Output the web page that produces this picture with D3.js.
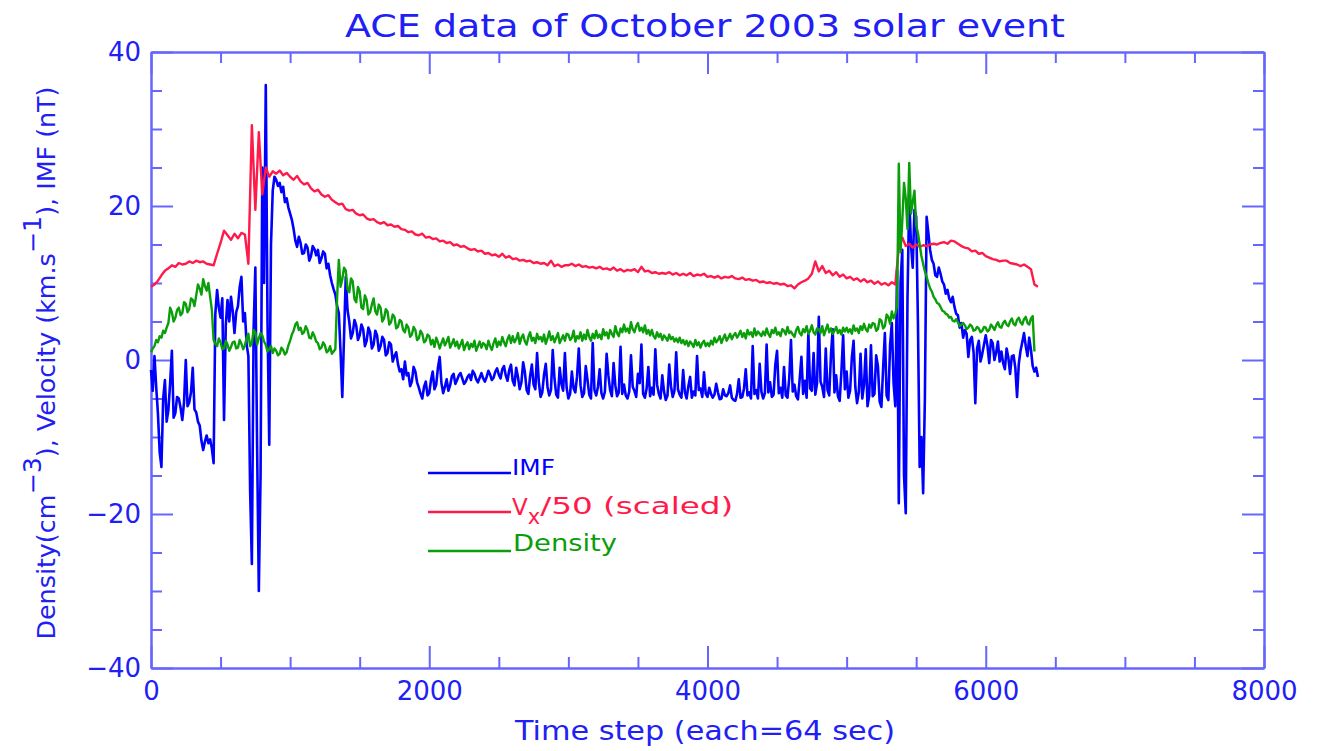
<!DOCTYPE html>
<html><head><meta charset="utf-8">
<script src="https://cdn.jsdelivr.net/npm/d3@7"></script>
<style>html,body{margin:0;padding:0;background:#fff;} svg{display:block}</style>
</head><body>
<svg id="chart" width="1317" height="751"></svg>
<script>
// ---- data ----
// time steps for the velocity series (every 25 samples)
const timeSteps = [
0,25,50,75,100,125,150,175, 200,225,250,275,300,325,350,375,
400,425,450,475,500,525,550,575, 600,625,650,675,700,725,750,775,
800,825,850,875,900,925,950,975, 1000,1025,1050,1075,1100,1125,1150,1175,
1200,1225,1250,1275,1300,1325,1350,1375, 1400,1425,1450,1475,1500,1525,1550,1575,
1600,1625,1650,1675,1700,1725,1750,1775, 1800,1825,1850,1875,1900,1925,1950,1975,
2000,2025,2050,2075,2100,2125,2150,2175, 2200,2225,2250,2275,2300,2325,2350,2375,
2400,2425,2450,2475,2500,2525,2550,2575, 2600,2625,2650,2675,2700,2725,2750,2775,
2800,2825,2850,2875,2900,2925,2950,2975, 3000,3025,3050,3075,3100,3125,3150,3175,
3200,3225,3250,3275,3300,3325,3350,3375, 3400,3425,3450,3475,3500,3525,3550,3575,
3600,3625,3650,3675,3700,3725,3750,3775, 3800,3825,3850,3875,3900,3925,3950,3975,
4000,4025,4050,4075,4100,4125,4150,4175, 4200,4225,4250,4275,4300,4325,4350,4375,
4400,4425,4450,4475,4500,4525,4550,4575, 4600,4625,4650,4675,4700,4725,4750,4775,
4800,4825,4850,4875,4900,4925,4950,4975, 5000,5025,5050,5075,5100,5125,5150,5175,
5200,5225,5250,5275,5300,5325,5350,5375, 5400,5425,5450,5475,5500,5525,5550,5575,
5600,5625,5650,5675,5700,5725,5750,5775, 5800,5825,5850,5875,5900,5925,5950,5975,
6000,6025,6050,6075,6100,6125,6150,6175, 6200,6225,6250,6275,6300,6325,6350,6375
];

// time steps for IMF and density (every 12.5 samples)
const fineSteps = [
0,12.5,25,37.5,50,62.5,75,87.5,100,112.5,125,137.5,150,162.5,175,187.5,
200,212.5,225,237.5,250,262.5,275,287.5,300,312.5,325,337.5,350,362.5,375,387.5,
400,412.5,425,437.5,450,462.5,475,487.5,500,512.5,525,537.5,550,562.5,575,587.5,
600,612.5,625,637.5,650,662.5,675,687.5,700,712.5,725,737.5,750,762.5,775,787.5,
800,812.5,825,837.5,850,862.5,875,887.5,900,912.5,925,937.5,950,962.5,975,987.5,
1000,1012.5,1025,1037.5,1050,1062.5,1075,1087.5,1100,1112.5,1125,1137.5,1150,1162.5,1175,1187.5,
1200,1212.5,1225,1237.5,1250,1262.5,1275,1287.5,1300,1312.5,1325,1337.5,1350,1362.5,1375,1387.5,
1400,1412.5,1425,1437.5,1450,1462.5,1475,1487.5,1500,1512.5,1525,1537.5,1550,1562.5,1575,1587.5,
1600,1612.5,1625,1637.5,1650,1662.5,1675,1687.5,1700,1712.5,1725,1737.5,1750,1762.5,1775,1787.5,
1800,1812.5,1825,1837.5,1850,1862.5,1875,1887.5,1900,1912.5,1925,1937.5,1950,1962.5,1975,1987.5,
2000,2012.5,2025,2037.5,2050,2062.5,2075,2087.5,2100,2112.5,2125,2137.5,2150,2162.5,2175,2187.5,
2200,2212.5,2225,2237.5,2250,2262.5,2275,2287.5,2300,2312.5,2325,2337.5,2350,2362.5,2375,2387.5,
2400,2412.5,2425,2437.5,2450,2462.5,2475,2487.5,2500,2512.5,2525,2537.5,2550,2562.5,2575,2587.5,
2600,2612.5,2625,2637.5,2650,2662.5,2675,2687.5,2700,2712.5,2725,2737.5,2750,2762.5,2775,2787.5,
2800,2812.5,2825,2837.5,2850,2862.5,2875,2887.5,2900,2912.5,2925,2937.5,2950,2962.5,2975,2987.5,
3000,3012.5,3025,3037.5,3050,3062.5,3075,3087.5,3100,3112.5,3125,3137.5,3150,3162.5,3175,3187.5,
3200,3212.5,3225,3237.5,3250,3262.5,3275,3287.5,3300,3312.5,3325,3337.5,3350,3362.5,3375,3387.5,
3400,3412.5,3425,3437.5,3450,3462.5,3475,3487.5,3500,3512.5,3525,3537.5,3550,3562.5,3575,3587.5,
3600,3612.5,3625,3637.5,3650,3662.5,3675,3687.5,3700,3712.5,3725,3737.5,3750,3762.5,3775,3787.5,
3800,3812.5,3825,3837.5,3850,3862.5,3875,3887.5,3900,3912.5,3925,3937.5,3950,3962.5,3975,3987.5,
4000,4012.5,4025,4037.5,4050,4062.5,4075,4087.5,4100,4112.5,4125,4137.5,4150,4162.5,4175,4187.5,
4200,4212.5,4225,4237.5,4250,4262.5,4275,4287.5,4300,4312.5,4325,4337.5,4350,4362.5,4375,4387.5,
4400,4412.5,4425,4437.5,4450,4462.5,4475,4487.5,4500,4512.5,4525,4537.5,4550,4562.5,4575,4587.5,
4600,4612.5,4625,4637.5,4650,4662.5,4675,4687.5,4700,4712.5,4725,4737.5,4750,4762.5,4775,4787.5,
4800,4812.5,4825,4837.5,4850,4862.5,4875,4887.5,4900,4912.5,4925,4937.5,4950,4962.5,4975,4987.5,
5000,5012.5,5025,5037.5,5050,5062.5,5075,5087.5,5100,5112.5,5125,5137.5,5150,5162.5,5175,5187.5,
5200,5212.5,5225,5237.5,5250,5262.5,5275,5287.5,5300,5312.5,5325,5337.5,5350,5362.5,5375,5387.5,
5400,5412.5,5425,5437.5,5450,5462.5,5475,5487.5,5500,5512.5,5525,5537.5,5550,5562.5,5575,5587.5,
5600,5612.5,5625,5637.5,5650,5662.5,5675,5687.5,5700,5712.5,5725,5737.5,5750,5762.5,5775,5787.5,
5800,5812.5,5825,5837.5,5850,5862.5,5875,5887.5,5900,5912.5,5925,5937.5,5950,5962.5,5975,5987.5,
6000,6012.5,6025,6037.5,6050,6062.5,6075,6087.5,6100,6112.5,6125,6137.5,6150,6162.5,6175,6187.5,
6200,6212.5,6225,6237.5,6250,6262.5,6275,6287.5,6300,6312.5,6325,6337.5,6350,6362.5,6375,6387.5
];

const imf = [
-1.3,-4.0,0.5,-3.5,-7.0,-12.0,-13.9,-5.0,-2.6,-8.0,-6.5,-3.0,1.2,-7.5,-6.9,-4.8,
-5.0,-6.2,-7.8,-5.5,0.0,-6.0,-5.5,-4.2,-1.0,-6.4,-6.8,-8.0,-8.5,-10.5,-11.7,-10.6,
-9.8,-10.8,-10.3,-11.5,-13.4,6.0,9.1,6.8,5.5,8.0,-7.8,4.5,7.8,5.0,8.2,6.3,
3.5,6.2,7.0,9.5,10.8,5.0,6.1,2.0,0.5,-17.0,-26.5,4.0,12.0,-11.0,-30.0,-15.0,
25.0,10.0,35.7,5.0,-11.0,15.0,22.0,23.8,23.4,22.6,23.0,21.8,22.5,20.5,21.0,19.8,
19.0,18.2,17.0,15.5,14.7,16.0,15.2,13.8,13.9,15.0,14.6,12.9,13.5,14.8,14.4,13.6,
14.3,12.6,13.2,14.1,13.8,11.9,12.5,11.0,10.0,9.2,8.5,7.0,6.1,1.0,-4.8,3.0,
10.8,6.5,5.0,2.8,3.5,5.2,4.5,2.6,3.2,4.6,4.0,1.8,2.5,4.2,3.6,1.5,
2.0,3.8,3.2,1.2,1.8,3.0,2.6,0.6,0.9,2.3,2.0,-0.2,0.5,1.0,-0.5,-1.5,
-1.2,-2.5,-0.2,-2.0,-1.7,-3.4,-2.8,-0.9,-1.5,-2.9,-3.6,-4.4,-5.0,-3.5,-2.8,-4.6,
-4.3,-2.6,-1.5,-3.8,-3.2,-1.0,0.4,-3.0,-4.3,-3.5,-2.5,-4.0,-3.3,-2.1,-1.8,-3.1,
-2.6,-2.0,-1.7,-2.4,-3.1,-2.8,-2.2,-1.9,-2.6,-1.4,-1.8,-2.5,-2.9,-2.3,-1.7,-2.4,
-2.8,-2.2,-1.4,-1.9,-2.6,-2.3,-1.5,-1.1,-1.9,-2.4,-1.2,-0.8,-2.0,-2.7,-1.3,-0.6,
-2.7,-3.3,-1.0,-2.2,-3.8,-2.9,-0.3,-1.6,-3.9,-4.4,-2.1,-0.6,-3.2,-3.8,0.9,-2.8,
-4.8,-4.2,-1.9,-0.5,-3.5,-4.6,-3.9,1.3,-2.4,-4.5,-4.9,-1.0,-3.1,-4.0,0.9,-3.6,
-5.0,-4.4,-1.5,-3.7,-4.2,-2.1,1.5,-3.3,-4.8,-4.3,-0.8,-2.6,-4.5,-5.0,2.2,-3.9,
-4.6,-3.5,-1.2,-4.3,-5.0,-4.1,0.8,-2.0,-3.9,-4.7,-0.4,-3.3,-4.7,-4.2,1.7,-4.4,
-3.2,-4.6,-5.0,-4.1,0.6,-3.5,-4.0,-4.8,-1.8,-3.0,2.0,-4.4,-4.9,-3.7,-0.9,-4.7,
-3.6,-4.5,1.4,-3.2,-4.4,-5.0,-2.0,-4.1,-5.2,-4.6,-0.6,-3.4,-4.8,-4.0,1.0,-3.8,
-4.5,-4.9,-1.3,-4.2,-5.0,-3.4,-2.2,-4.9,-4.1,-4.6,0.5,-3.9,-3.7,-4.8,-1.6,-4.4,
-4.8,-3.6,-4.4,-4.9,-4.5,-3.1,-4.2,-5.1,-5.0,-3.8,-4.6,-4.7,-4.3,-3.3,-4.9,-5.2,
-5.3,-4.4,-2.5,-4.9,-4.8,-3.7,-1.2,-4.6,-4.2,-5.0,1.8,-4.4,-3.9,-5.0,-0.5,-4.1,
-5.0,-4.3,2.0,-4.2,-2.9,-4.8,-4.5,-0.6,1.2,-4.3,-3.6,-4.9,-0.9,-4.6,-4.9,-2.4,
2.6,-4.1,-3.2,-4.7,-5.1,-2.5,0.4,-4.4,-2.7,-4.9,3.5,-3.7,-4.0,0.9,-4.5,-3.0,
5.6,-2.8,-3.5,-4.8,1.5,-3.9,-4.6,0.7,4.0,-4.2,-2.0,-4.7,-5.3,-1.5,3.2,-3.8,
-1.5,-4.9,-4.0,0.3,2.5,-3.5,-5.6,-4.2,0.8,-5.0,-3.2,1.4,-6.0,-4.6,1.9,-4.7,
-4.4,0.6,-0.8,-5.4,-6.1,-1.0,3.5,-4.6,-5.2,2.0,4.8,-3.0,-6.0,11.7,-18.6,10.0,
14.3,-15.0,-19.9,8.0,21.2,15.0,12.0,19.5,18.6,5.0,-13.9,-10.0,-17.3,-5.0,18.6,16.5,
14.3,13.0,12.5,11.0,10.8,12.0,11.2,10.2,9.8,8.6,9.1,8.0,7.5,8.2,6.9,6.0,
5.8,4.2,4.8,2.9,3.9,3.4,0.4,2.6,3.0,1.0,-5.6,1.5,2.5,-0.2,0.8,2.0,
3.2,1.8,-0.4,2.6,2.2,0.0,1.0,2.4,-0.2,1.1,-0.4,-1.2,1.5,0.3,-1.8,0.5,
0.6,-1.0,-4.8,-0.5,1.2,2.3,3.5,1.8,0.5,2.9,1.3,-0.8,-1.5,-1.0,-2.2,null
];

const vxScaled = [
9.5,9.8,10.3,11.0,11.6,11.9,12.3,12.1,
12.6,12.4,12.5,12.8,12.6,12.9,12.7,12.8,
12.5,12.4,12.3,13.8,15.2,16.8,16.2,15.6,
16.4,15.8,16.5,16.3,12.5,30.5,19.5,29.6,
21.5,25.0,23.8,24.5,24.2,24.6,24.0,24.3,
23.8,23.4,23.9,23.2,22.8,23.0,22.3,21.9,
22.1,21.5,21.2,21.4,20.8,20.5,20.2,20.3,
19.6,19.4,19.5,19.0,18.8,18.9,18.4,18.2,
18.3,17.9,17.7,17.9,17.5,17.6,17.3,17.4,
17.0,16.9,16.6,16.7,16.3,16.2,16.4,15.9,
16.0,15.7,15.8,15.4,15.5,15.2,15.3,14.9,
15.0,14.7,14.8,14.5,14.3,14.4,14.1,14.2,
13.8,13.9,13.6,13.7,13.4,13.8,13.3,13.5,
13.1,13.2,12.9,13.0,12.8,12.9,12.6,12.7,
12.5,12.6,12.3,12.9,12.2,12.4,12.1,12.3,
12.3,12.5,12.2,12.4,12.1,12.2,12.0,12.1,
11.9,12.1,11.8,11.9,11.7,12.0,11.6,11.8,
11.5,11.7,11.6,11.8,11.4,12.1,11.5,11.6,
11.3,11.4,11.2,11.3,11.2,11.4,11.1,11.3,
11.0,11.2,11.0,11.3,10.9,11.1,11.0,11.2,
10.8,10.9,10.7,10.9,10.6,10.8,10.7,10.9,
10.6,10.5,10.7,10.4,10.5,10.3,10.4,10.1,
10.2,10.0,10.1,9.9,10.0,9.8,9.9,9.6,
9.7,9.3,9.8,10.1,10.3,10.6,11.2,12.8,
11.5,12.2,11.3,11.6,11.0,11.4,10.8,11.1,
10.6,10.8,10.4,10.6,10.2,10.5,10.1,10.3,
9.9,10.2,9.8,10.0,9.7,10.1,9.8,14.6,
15.9,14.8,15.1,14.6,15.0,14.7,14.9,14.8,
15.0,15.1,15.0,15.2,15.3,15.1,15.5,15.4,
15.1,14.8,14.6,14.5,14.1,14.2,13.8,13.9,
13.5,13.3,13.1,13.0,12.8,12.9,12.9,12.6,
12.5,12.4,12.2,12.4,12.1,11.8,9.8,9.5
];

const density = [
1.0,1.5,1.8,2.6,2.3,3.1,2.9,3.8,3.5,4.2,4.8,6.8,6.2,5.0,5.5,6.5,
6.8,5.8,6.1,7.5,7.3,6.2,6.6,8.0,7.8,7.0,8.4,9.8,9.3,8.5,10.5,9.6,
9.0,10.0,8.2,6.5,2.6,2.1,1.8,2.8,2.3,1.4,1.5,2.5,2.0,1.2,1.7,2.3,
2.4,1.5,1.6,2.6,2.1,1.4,1.9,2.9,3.4,1.8,2.2,3.9,3.6,2.0,2.8,3.5,
3.2,2.4,2.0,1.1,1.4,1.8,0.9,1.5,1.2,0.6,0.8,1.6,1.3,0.7,1.0,1.9,
2.5,3.3,3.8,4.6,4.9,3.9,4.2,3.4,3.6,4.4,3.9,2.9,2.8,3.6,3.1,2.4,
2.2,1.4,1.6,2.3,1.9,1.0,1.2,1.8,0.8,1.1,1.4,8.0,13.0,9.5,10.5,12.0,
11.6,9.2,8.8,10.6,10.2,7.9,7.5,9.5,8.9,6.8,6.6,8.4,7.8,5.9,6.2,7.2,
8.0,6.3,5.9,7.2,6.8,5.0,5.4,6.6,6.3,4.6,4.9,5.9,5.6,4.1,4.3,5.2,
5.0,3.9,3.6,4.6,4.2,3.0,3.3,4.3,3.9,2.6,2.8,3.8,3.4,2.3,2.5,3.3,
3.1,2.0,2.6,1.7,2.9,2.3,1.5,2.2,2.8,1.9,2.4,3.0,1.6,2.1,2.7,1.8,
2.4,1.5,2.0,2.6,1.3,1.9,2.3,1.4,2.1,1.7,2.5,1.2,1.8,2.4,1.6,2.2,
2.0,1.4,2.5,1.8,1.3,2.2,2.8,1.7,2.4,1.9,3.0,2.3,1.8,2.7,3.2,2.2,
3.1,2.3,2.7,3.5,2.1,2.9,3.3,2.4,2.0,3.0,3.6,2.5,2.9,2.2,3.4,2.7,
3.0,2.4,3.3,2.1,2.8,3.7,2.6,3.1,2.3,2.9,3.5,2.2,2.7,3.2,2.5,3.4,
3.3,2.6,2.9,3.8,2.4,3.1,2.8,3.6,2.5,3.3,2.7,3.9,3.0,2.5,3.4,2.8,
3.8,2.9,3.3,2.7,4.0,3.2,3.6,2.8,3.9,3.4,3.0,4.4,3.5,3.1,4.1,3.6,
4.6,3.7,4.1,3.5,4.9,4.0,3.6,4.4,4.8,3.8,4.2,3.6,4.5,3.4,3.9,3.2,
3.9,3.1,2.8,3.6,3.0,3.4,2.6,3.2,2.9,2.5,3.3,2.7,3.0,2.4,2.8,2.3,
2.9,2.2,2.6,2.0,2.5,1.8,2.4,2.1,1.7,2.6,1.9,2.3,1.6,2.2,2.5,1.8,
2.2,1.8,2.5,2.0,2.9,2.3,2.6,3.1,2.2,2.8,3.3,2.5,2.9,3.4,2.7,3.2,
3.5,2.9,3.3,3.8,3.0,3.5,2.8,3.9,3.3,3.6,3.0,4.1,3.2,3.7,3.4,3.1,
3.7,3.2,4.1,3.4,3.0,3.9,3.5,4.2,3.3,3.6,3.1,4.0,3.8,3.3,4.3,3.5,
3.7,3.3,3.0,3.9,4.3,3.5,3.2,4.0,3.6,4.4,3.4,3.8,4.5,3.6,3.3,4.1,
4.0,3.5,4.4,3.2,3.9,4.6,3.6,4.1,3.4,3.8,4.3,3.5,3.9,3.3,4.2,3.7,
4.2,3.6,4.0,3.4,4.5,3.8,4.1,3.5,4.4,3.9,4.7,4.0,3.7,4.6,4.2,4.8,
4.7,3.8,4.0,5.3,5.1,4.1,4.4,5.9,5.6,4.7,6.3,5.4,6.0,7.0,25.5,14.0,
18.0,23.0,21.0,17.0,25.6,19.0,20.5,22.0,17.5,16.5,15.0,13.5,12.5,11.5,10.8,10.0,
9.3,8.9,8.2,7.9,7.4,7.3,6.9,6.4,6.3,6.0,5.9,5.5,5.6,5.1,5.0,5.3,
4.9,4.4,4.6,4.8,4.5,4.0,4.2,4.6,4.4,3.8,3.9,4.3,4.1,3.6,3.8,4.3,
4.2,3.7,3.9,4.6,4.3,3.9,4.5,4.9,4.3,4.2,4.8,5.1,4.6,4.4,5.0,5.4,
4.7,4.5,5.2,5.5,4.9,4.6,5.3,5.6,4.8,4.6,5.4,5.7,1.1,null,null,null
];

const xTickLabels = [0, 2000, 4000, 6000, 8000];
const yTickLabels = [-40, -20, 0, 20, 40];
const seriesNames = ["IMF", "Vx/50 (scaled)", "Density"];

// ---- styles ----
const colIMF = "#0000ff", colVx = "#ff1a4a", colDen = "#0a9e0a";
const axisColor = "#6666ff", textColor = "#2020f5";
const font = "DejaVu Sans";

const svg = d3.select("#chart");
svg.append("rect").attr("width", 1317).attr("height", 751).attr("fill", "#fff");

const x = d3.scaleLinear().domain([0, 8000]).range([151, 1264]);
const y = d3.scaleLinear().domain([-40, 40]).range([668, 52]);

const xMinor = d3.range(0, 8001, 500).filter(v => !xTickLabels.includes(v));
const yMinor = d3.range(-40, 41, 5).filter(v => !yTickLabels.includes(v));

function styleAxis(g) {
  g.selectAll("path,line").attr("stroke", axisColor).attr("stroke-width", 2);
  g.selectAll("text").attr("fill", textColor).attr("font-family", font).attr("font-size", 26);
}
const fmt = d3.format("d");

// bottom
svg.append("g").attr("transform", `translate(0,${y(-40)})`)
  .call(d3.axisBottom(x).tickValues(xTickLabels).tickSize(-22).tickSizeOuter(0).tickPadding(14).tickFormat(fmt)).call(styleAxis);
svg.append("g").attr("transform", `translate(0,${y(-40)})`)
  .call(d3.axisBottom(x).tickValues(xMinor).tickSize(-11).tickSizeOuter(0).tickFormat("")).call(styleAxis);
// top
svg.append("g").attr("transform", `translate(0,${y(40)})`)
  .call(d3.axisTop(x).tickValues(xTickLabels).tickSize(-22).tickSizeOuter(0).tickFormat("")).call(styleAxis);
svg.append("g").attr("transform", `translate(0,${y(40)})`)
  .call(d3.axisTop(x).tickValues(xMinor).tickSize(-11).tickSizeOuter(0).tickFormat("")).call(styleAxis);
// left
svg.append("g").attr("transform", `translate(${x(0)},0)`)
  .call(d3.axisLeft(y).tickValues(yTickLabels).tickSize(-22).tickSizeOuter(0).tickPadding(10).tickFormat(fmt)).call(styleAxis);
svg.append("g").attr("transform", `translate(${x(0)},0)`)
  .call(d3.axisLeft(y).tickValues(yMinor).tickSize(-11).tickSizeOuter(0).tickFormat("")).call(styleAxis);
// right
svg.append("g").attr("transform", `translate(${x(8000)},0)`)
  .call(d3.axisRight(y).tickValues(yTickLabels).tickSize(-22).tickSizeOuter(0).tickFormat("")).call(styleAxis);
svg.append("g").attr("transform", `translate(${x(8000)},0)`)
  .call(d3.axisRight(y).tickValues(yMinor).tickSize(-11).tickSizeOuter(0).tickFormat("")).call(styleAxis);

// ---- series ----
const line = d3.line().defined(d => d.v != null).x(d => x(d.t)).y(d => y(d.v));
const series = [
  { name: seriesNames[0], steps: fineSteps, values: imf, color: colIMF, w: 2.6 },
  { name: seriesNames[1], steps: timeSteps, values: vxScaled, color: colVx, w: 2.4 },
  { name: seriesNames[2], steps: fineSteps, values: density, color: colDen, w: 2.4 }
];
series.forEach(s => {
  const pts = s.steps.map((t, i) => ({ t: t, v: s.values[i] }));
  svg.append("path").datum(pts).attr("d", line)
    .attr("fill", "none").attr("stroke", s.color).attr("stroke-width", s.w)
    .attr("stroke-linejoin", "round");
});

// ---- titles ----
svg.append("text").attr("x", 705).attr("y", 37).attr("text-anchor", "middle")
  .attr("font-family", font).attr("font-size", 32).attr("fill", textColor)
  .attr("textLength", 720).attr("lengthAdjust", "spacingAndGlyphs")
  .text("ACE data of October 2003 solar event");

svg.append("text").attr("x", 705).attr("y", 740).attr("text-anchor", "middle")
  .attr("font-family", font).attr("font-size", 26).attr("fill", textColor)
  .attr("textLength", 380).attr("lengthAdjust", "spacingAndGlyphs")
  .text("Time step (each=64 sec)");

const yt = svg.append("text").attr("transform", "translate(55,363) rotate(-90)")
  .attr("text-anchor", "middle").attr("font-family", font).attr("font-size", 24)
  .attr("fill", textColor).attr("textLength", 553).attr("lengthAdjust", "spacingAndGlyphs");
yt.append("tspan").text("Density(cm");
yt.append("tspan").attr("dy", "-0.6em").text("\u22123");
yt.append("tspan").attr("dy", "0.6em").text("), Velocity (km.s");
yt.append("tspan").attr("dy", "-0.6em").text("\u22121");
yt.append("tspan").attr("dy", "0.6em").text("), IMF (nT)");

// ---- legend ----
const legY = [473, 512, 551];
series.forEach((s, i) => {
  svg.append("line").attr("x1", 428).attr("x2", 511).attr("y1", legY[i]).attr("y2", legY[i])
    .attr("stroke", s.color).attr("stroke-width", 2.4);
});
svg.append("text").attr("x", 512).attr("y", 475).attr("font-family", font).attr("font-size", 21)
  .attr("fill", colIMF).attr("textLength", 43).attr("lengthAdjust", "spacingAndGlyphs").text("IMF");
const vt = svg.append("text").attr("x", 512).attr("y", 515).attr("font-family", font).attr("font-size", 23).attr("fill", colVx);
vt.append("tspan").text("V");
vt.append("tspan").attr("dy", "0.45em").attr("font-size", 21).text("x");
vt.append("tspan").attr("dy", "-0.45em").attr("textLength", 193).attr("lengthAdjust", "spacingAndGlyphs").text("/50 (scaled)");
svg.append("text").attr("x", 513).attr("y", 551).attr("font-family", font).attr("font-size", 23)
  .attr("fill", colDen).attr("textLength", 104).attr("lengthAdjust", "spacingAndGlyphs").text("Density");
</script>
</body></html>
